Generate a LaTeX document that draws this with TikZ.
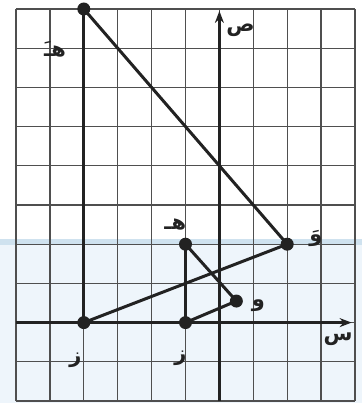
\documentclass[tikz,border=0pt]{standalone}
\usepackage{fontspec}
\newfontfamily\arabicfont[Script=Arabic]{DejaVu Sans}
\TeXXeTstate=1
\usetikzlibrary{arrows.meta}
\definecolor{gridc}{HTML}{4F4F4F}
\definecolor{inkc}{HTML}{222222}
\definecolor{bandc}{HTML}{EEF5FB}
\definecolor{bandtop}{HTML}{CFE2EF}
\tikzset{
  gridline/.style={draw=gridc, line width=1.3pt},
  figline/.style={draw=inkc, line width=3pt},
  axisline/.style={draw=inkc, line width=2.6pt, -{Stealth[length=12pt,width=9pt]}},
  ptdot/.style={circle, fill=inkc, inner sep=0pt, minimum size=13pt},
  lbl/.style={text=inkc, font=\arabicfont\bfseries\fontsize{21}{21}\selectfont, inner sep=0pt}
}
\begin{document}
\begin{tikzpicture}[x=33.9pt, y=39.2pt]
\useasboundingbox (-219.4pt,-80.4pt) rectangle (142.6pt,322.6pt);
% light blue band
\fill[bandc] (-219.4pt,-80.4pt) rectangle (142.6pt,84pt);
\fill[bandtop] (-219.4pt,78pt) rectangle (142.6pt,84pt);
% grid
\foreach \i in {-6,...,4} {\draw[gridline] (\i,-2) -- (\i,8);}
\foreach \j in {-2,...,8} {\draw[gridline] (-6,\j) -- (4,\j);}
% axes
\coordinate (xs) at (-6,0);
\coordinate (xe) at (3.9,0);
\coordinate (ys) at (0,-2);
\coordinate (ye) at (0,7.95);
\draw[axisline] (xs) -- (xe);
\draw[axisline] (ys) -- (ye);
% points
\node[ptdot] (H1) at (-4,8) {};
\node[ptdot] (Z1) at (-4,0) {};
\node[ptdot] (W1) at (2,2) {};
\node[ptdot] (H) at (-1,2) {};
\node[ptdot] (Z) at (-1,0) {};
\node[ptdot] (W) at (0.5,0.55) {};
% image triangle
\draw[figline] (H1.center) -- (Z1.center);
\draw[figline] (H1.center) -- (W1.center);
\draw[figline] (Z1.center) -- (W1.center);
% original triangle
\draw[figline] (H.center) -- (Z.center);
\draw[figline] (H.center) -- (W.center);
\draw[figline] (Z.center) -- (W.center);
% labels
\node[lbl] (ls) at (0.62,7.45) {\beginR ص\endR};
\node[lbl] (lx) at (3.5,-0.42) {\beginR س\endR};
\node[lbl] (lh1) at (-4.85,6.98) {\beginR هـَ\endR};
\node[lbl] (lz1) at (-4.25,-0.95) {\beginR ز\endR};
\node[lbl] (lz) at (-1.15,-0.9) {\beginR ز\endR};
\node[lbl] (lh) at (-1.3,2.5) {\beginR هـ\endR};
\node[lbl] (lw) at (1.15,0.42) {\beginR و\endR};
\node[lbl] (lw1) at (2.85,2.15) {\beginR وَ\endR};
\end{tikzpicture}
\end{document}
